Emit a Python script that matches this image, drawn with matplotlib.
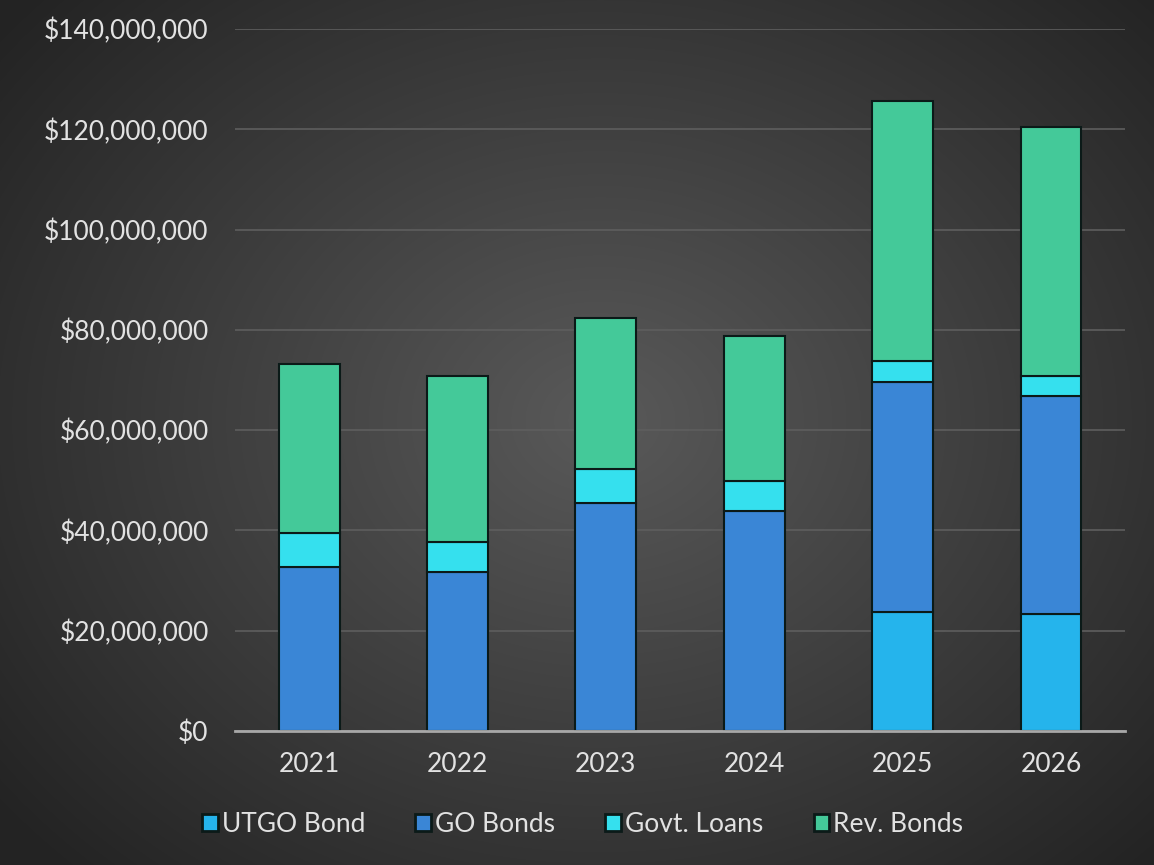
import numpy as np
import matplotlib.pyplot as plt
from matplotlib.ticker import FuncFormatter
from matplotlib.patches import Patch

plt.rcParams['font.family'] = ['Lato', 'DejaVu Sans']

years = ['2021', '2022', '2023', '2024', '2025', '2026']
# values in millions of dollars
utgo_bond = [0.0, 0.0, 0.0, 0.0, 23.7, 23.3]
go_bonds = [32.7, 31.7, 45.5, 43.9, 45.9, 43.5]
govt_loans = [6.8, 6.0, 6.8, 6.0, 4.2, 4.0]
rev_bonds = [33.7, 33.1, 30.1, 28.9, 51.8, 49.7]

series = [('UTGO Bond', utgo_bond, '#25b4ec'),
          ('GO Bonds', go_bonds, '#3a86d6'),
          ('Govt. Loans', govt_loans, '#35e0ee'),
          ('Rev. Bonds', rev_bonds, '#44c999')]

fig = plt.figure(figsize=(11.54, 8.65), dpi=100)

# radial gradient background
bg = fig.add_axes([0, 0, 1, 1])
yy, xx = np.mgrid[0:865, 0:1154]
r = np.sqrt(((xx - 600) / 800.0) ** 2 + ((yy - 420) / 650.0) ** 2)
shade = np.clip(0.35 - 0.22 * r, 0.14, 0.35)
bg.imshow(np.dstack([shade] * 3), aspect='auto', extent=[0, 1, 0, 1])
bg.axis('off')

ax = fig.add_axes([0.2036, 0.155, 0.7714, 0.8115])
ax.set_facecolor('none')

x = np.arange(len(years))
bottom = np.zeros(len(years))
for name, vals, col in series:
    vals = np.array(vals) * 1e6
    ax.bar(x, vals, 0.41, bottom=bottom, color=col, edgecolor='#0b1a18',
           linewidth=1.5, zorder=3, label=name)
    bottom += vals

ax.set_xlim(-0.5, len(years) - 0.5)
ax.set_ylim(0, 140e6)
ax.set_yticks(np.arange(0, 140e6 + 1, 20e6))
ax.yaxis.set_major_formatter(FuncFormatter(lambda v, p: '${:,.0f}'.format(v)))
ax.set_xticks(x)
ax.set_xticklabels(years)
ax.grid(axis='y', color='#5e5e5e', linewidth=1.2, zorder=0)
ax.tick_params(axis='both', length=0, colors='#e2e2e2', labelsize=19)
ax.tick_params(axis='y', pad=19)
ax.tick_params(axis='x', pad=15)
for s in ['top', 'right', 'left']:
    ax.spines[s].set_visible(False)
ax.spines['bottom'].set_color('#a8a8a8')
ax.spines['bottom'].set_linewidth(2)
ax.spines['bottom'].set_zorder(4)

handles = [Patch(facecolor=c, edgecolor='#0b1a18', linewidth=2) for _, _, c in series]
leg = fig.legend(handles, [n for n, _, _ in series], loc='center',
                 bbox_to_anchor=(0.505, 0.047), ncol=4, frameon=False,
                 fontsize=19, handlelength=0.6, handleheight=0.6,
                 handletextpad=0.15, columnspacing=1.9)
for t in leg.get_texts():
    t.set_color('#e2e2e2')

fig.savefig('out.png', dpi=100)
